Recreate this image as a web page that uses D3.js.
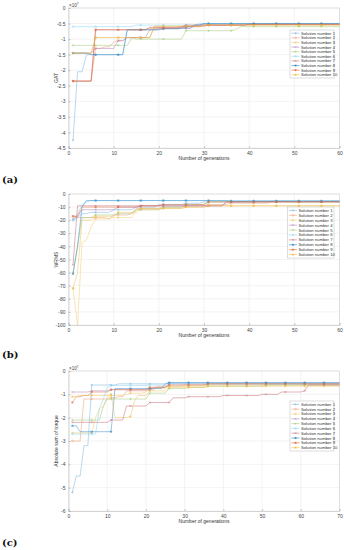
<!DOCTYPE html>
<html><head><meta charset="utf-8">
<script src="https://cdn.jsdelivr.net/npm/d3@7"></script>
<style>body{margin:0;background:#fff}svg{display:block}</style>
</head><body>
<svg id="c" width="344" height="550"></svg>
<script>
// ---- data (step change points: [generation, value]) ----
const seriesNames = ["Solution number 1","Solution number 2","Solution number 3","Solution number 4","Solution number 5","Solution number 6","Solution number 7","Solution number 8","Solution number 9","Solution number 10"];
const seriesColors = ["#7fb8e0","#eca27f","#f3cf75","#b488bd","#a6cc7c","#8fd6f4","#c9727f","#2a86c8","#de6a38","#efbc45"];
const seriesMarkers = ["+","o","*","x","+","o","x","*","*","*"];

const gatTicksX = [0,10,20,30,40,50,60];
const gatTicksY = [0,-0.5,-1,-1.5,-2,-2.5,-3,-3.5,-4,-4.5];
const gatSteps = [
  [[1,-4.25],[2,-2.05],[3,-2.05],[4,-1.5],[12,-1.5],[13,-0.7],[20,-0.7],[21,-0.66],[28,-0.55],[30,-0.5]],
  [[1,-2.35],[5,-2.35],[6,-1.3],[8,-1.25],[10,-1.1],[11,-1.05],[13,-0.95],[17,-0.95],[19,-0.62],[26,-0.6],[31,-0.55],[40,-0.52]],
  [[1,-1.45],[5,-1.45],[6,-0.95],[17,-0.95],[19,-0.6],[26,-0.58],[31,-0.55]],
  [[1,-1.45],[5,-1.45],[6,-1.3],[11,-1.05],[13,-0.95],[17,-0.95],[18,-0.7],[21,-0.65],[26,-0.65],[28,-0.55],[36,-0.52]],
  [[1,-1.2],[13,-1.2],[14,-0.97],[15,-1.0],[24,-1.0],[26,-0.73],[37,-0.7],[38,-0.6]],
  [[1,-0.6],[14,-0.6],[15,-0.55],[28,-0.55],[29,-0.5]],
  [[1,-2.35],[5,-2.35],[6,-0.7],[17,-0.7],[18,-0.62],[25,-0.6],[26,-0.55],[40,-0.52]],
  [[1,-1.45],[4,-1.45],[5,-1.5],[12,-1.5],[13,-0.7],[20,-0.67],[25,-0.65],[26,-0.6],[28,-0.55],[30,-0.5]],
  [[1,-2.35],[5,-2.35],[6,-0.7],[17,-0.7],[18,-0.65],[25,-0.6],[30,-0.55],[40,-0.53]],
  [[1,-1.45],[5,-1.45],[6,-0.95],[17,-0.95],[19,-0.58],[30,-0.55]]
];

const wrmsTicksX = [0,10,20,30,40,50,60];
const wrmsTicksY = [0,-10,-20,-30,-40,-50,-60,-70,-80,-90,-100];
const wrmsSteps = [
  [[1,-20],[2,-18],[3,-15],[5,-14],[10,-12],[15,-10],[20,-8],[26,-7],[30,-6],[40,-5.5]],
  [[1,-17],[2,-18],[9,-19],[10,-16],[14,-15],[15,-11],[21,-10],[26,-9],[31,-8],[36,-7],[45,-6]],
  [[1,-72],[2,-100],[3,-37],[4,-35],[5,-25],[6,-19],[10,-18],[15,-12],[21,-11],[26,-10],[31,-9]],
  [[1,-19],[2,-17],[3,-12],[11,-10],[16,-9],[34,-9],[35,-6],[45,-5.5]],
  [[1,-60],[2,-40],[3,-18],[6,-16],[11,-15],[15,-12],[21,-10],[26,-8],[31,-6]],
  [[1,-20],[2,-15],[3,-8],[4,-6],[5,-5]],
  [[1,-54],[2,-9],[34,-9],[35,-6]],
  [[1,-61],[2,-40],[3,-10],[4,-5],[30,-5],[36,-5.5]],
  [[1,-17],[2,-17],[3,-10],[15,-10],[16,-9],[21,-8],[30,-8],[31,-6]],
  [[1,-72],[2,-60],[3,-20],[6,-17],[11,-14],[16,-11],[26,-10],[31,-9]]
];

const torqueTicksX = [0,10,20,30,40,50,60,70];
const torqueTicksY = [0,-1,-2,-3,-4,-5,-6];
const torqueSteps = [
  [[1,-5.2],[2,-4.5],[3,-4.5],[4,-3.2],[5,-3.2],[6,-0.6],[12,-0.6],[13,-0.55],[25,-0.55],[26,-0.5]],
  [[1,-3.0],[3,-3.0],[4,-1.2],[11,-1.15],[13,-1.1],[15,-0.85],[21,-0.8],[23,-0.65],[30,-0.6],[36,-0.55]],
  [[1,-2.65],[6,-2.65],[7,-2.0],[8,-1.6],[9,-1.55],[10,-1.1],[11,-1.05],[15,-1.0],[16,-0.95],[20,-0.9],[21,-0.75],[26,-0.65],[36,-0.6]],
  [[1,-0.9],[5,-0.9],[6,-0.85],[11,-0.8],[20,-0.8],[22,-0.7],[26,-0.55]],
  [[1,-2.1],[8,-2.1],[9,-1.5],[10,-1.2],[20,-1.2],[21,-0.95],[26,-0.75],[31,-0.7],[36,-0.65],[50,-0.65],[51,-0.6]],
  [[1,-2.7],[7,-2.7],[8,-1.6],[9,-1.2],[10,-0.7],[11,-0.62],[21,-0.6],[26,-0.55]],
  [[1,-2.2],[10,-2.2],[11,-2.1],[14,-2.1],[15,-1.5],[20,-1.5],[21,-1.35],[26,-1.35],[27,-1.15],[31,-1.1],[40,-1.05],[50,-1.0],[55,-0.9],[61,-0.85],[62,-0.6]],
  [[1,-2.35],[2,-2.35],[3,-2.6],[11,-2.6],[12,-0.75],[24,-0.75],[25,-0.55],[26,-0.5]],
  [[1,-1.35],[2,-1.1],[4,-1.05],[6,-0.9],[11,-0.8],[20,-0.8],[21,-0.7],[26,-0.6],[36,-0.55]],
  [[1,-1.1],[3,-1.05],[11,-1.0],[12,-2.0],[16,-1.95],[17,-1.3],[18,-1.05],[21,-0.85],[26,-0.7],[36,-0.65]]
];

// ---- drawing ----
const svg = d3.select("#c");
svg.append("rect").attr("width",344).attr("height",550).attr("fill","#fff");

function expand(steps, n){
  const out=[]; let k=0;
  for(let g=1; g<=n; g++){
    while(k+1<steps.length && steps[k+1][0]<=g) k++;
    out.push([g, steps[k][1]]);
  }
  return out;
}

function marker(g, type, color, s){
  if(type==="o"){ g.append("circle").attr("r",s*0.8).attr("fill","none").attr("stroke",color).attr("stroke-width",0.5); return; }
  const lines=[];
  if(type==="+"||type==="*") lines.push([-s,0,s,0],[0,-s,0,s]);
  if(type==="x"||type==="*") lines.push([-s*0.75,-s*0.75,s*0.75,s*0.75],[-s*0.75,s*0.75,s*0.75,-s*0.75]);
  lines.forEach(l=>g.append("line").attr("x1",l[0]).attr("y1",l[1]).attr("x2",l[2]).attr("y2",l[3]).attr("stroke",color).attr("stroke-width",0.5));
}

function panel(cfg){
  const x = d3.scaleLinear().domain([0,cfg.xmax]).range([68.5,339.5]);
  const y = d3.scaleLinear().domain([cfg.ymin,0]).range([cfg.bottom,cfg.top]);
  const g = svg.append("g");
  g.selectAll(".gx").data(cfg.ticksX).enter().append("line")
    .attr("x1",d=>x(d)).attr("x2",d=>x(d)).attr("y1",cfg.top).attr("y2",cfg.bottom)
    .attr("stroke","#e6e6e6").attr("stroke-width",0.5);
  g.selectAll(".gy").data(cfg.ticksY).enter().append("line")
    .attr("x1",68.5).attr("x2",339.5).attr("y1",d=>y(d)).attr("y2",d=>y(d))
    .attr("stroke","#e6e6e6").attr("stroke-width",0.5);
  const ax = g.append("g").attr("transform",`translate(0,${cfg.bottom})`)
    .call(d3.axisBottom(x).tickValues(cfg.ticksX).tickSize(-2).tickPadding(3).tickFormat(d3.format("d")));
  const ay = g.append("g").attr("transform",`translate(68.5,0)`)
    .call(d3.axisLeft(y).tickValues(cfg.ticksY).tickSize(-2).tickPadding(3).tickFormat(d=>String(d)));
  [ax,ay].forEach(a=>{
    a.select(".domain").attr("stroke","#bbb").attr("stroke-width",0.6);
    a.selectAll(".tick line").attr("stroke","#999").attr("stroke-width",0.5);
    a.selectAll("text").attr("font-family","Arial, Liberation Sans, sans-serif").attr("font-size",5).attr("fill","#444");
  });
  g.append("line").attr("x1",68.5).attr("x2",339.5).attr("y1",cfg.top).attr("y2",cfg.top).attr("stroke","#ccc").attr("stroke-width",0.5);
  g.append("line").attr("x1",339.5).attr("x2",339.5).attr("y1",cfg.top).attr("y2",cfg.bottom).attr("stroke","#ccc").attr("stroke-width",0.5);
  const line = d3.line().x(d=>x(d[0])).y(d=>y(d[1]));
  cfg.steps.forEach((st,i)=>{
    const pts = expand(st, cfg.xmax);
    const sg = g.append("g").attr("opacity", i>=7 ? 0.85 : 1);
    sg.append("path").attr("d",line(pts)).attr("fill","none").attr("stroke",seriesColors[i]).attr("stroke-width",0.55);
    pts.filter(p=>(p[0]-1)%5===0).forEach(p=>{
      const m = sg.append("g").attr("transform",`translate(${x(p[0])},${y(p[1])})`);
      marker(m, seriesMarkers[i], seriesColors[i], 1.2);
    });
  });
  g.append("text").attr("x",(68.5+339.5)/2).attr("y",cfg.bottom+11.5).attr("text-anchor","middle")
    .attr("font-family","Arial, Liberation Sans, sans-serif").attr("font-size",5).attr("fill","#333").text("Number of generations");
  g.append("text").attr("transform",`translate(58,${(cfg.top+cfg.bottom)/2}) rotate(-90)`).attr("text-anchor","middle")
    .attr("font-family","Arial, Liberation Sans, sans-serif").attr("font-size",5).attr("fill","#333").text(cfg.ylabel);
  if(cfg.exp){
    const t = g.append("text").attr("x",69).attr("y",cfg.top-1.5)
      .attr("font-family","Arial, Liberation Sans, sans-serif").attr("font-size",4.5).attr("fill","#444");
    t.append("tspan").text("×10");
    t.append("tspan").attr("dy",-1.8).attr("font-size",3.2).text("7");
  }
  const L = cfg.legend;
  const lg = g.append("g");
  lg.append("rect").attr("x",L.x).attr("y",L.y).attr("width",L.w).attr("height",L.h)
    .attr("fill","#fff").attr("stroke","#bbb").attr("stroke-width",0.5);
  const rh = L.h/10.4;
  seriesNames.forEach((nm,i)=>{
    const cy = L.y + rh*(i+0.7);
    lg.append("line").attr("x1",L.x+1.5).attr("x2",L.x+9.5).attr("y1",cy).attr("y2",cy).attr("stroke",seriesColors[i]).attr("stroke-width",0.6);
    const m = lg.append("g").attr("transform",`translate(${L.x+5.5},${cy})`);
    marker(m, seriesMarkers[i], seriesColors[i], 1.1);
    lg.append("text").attr("x",L.x+11).attr("y",cy+1.5)
      .attr("font-family","Arial, Liberation Sans, sans-serif").attr("font-size",4.2).attr("fill","#333").text(nm);
  });
}

panel({xmax:60, ymin:-4.5, top:8, bottom:148, ticksX:gatTicksX, ticksY:gatTicksY, steps:gatSteps, ylabel:"GAT", exp:true,
  legend:{x:290,y:30,w:44,h:48}});
panel({xmax:60, ymin:-100, top:194, bottom:325, ticksX:wrmsTicksX, ticksY:wrmsTicksY, steps:wrmsSteps, ylabel:"WRMS", exp:false,
  legend:{x:287.5,y:207,w:46.5,h:51}});
panel({xmax:70, ymin:-6, top:371, bottom:511, ticksX:torqueTicksX, ticksY:torqueTicksY, steps:torqueSteps, ylabel:"Absolute sum of torque", exp:true,
  legend:{x:290,y:401,w:44,h:50}});

[["(a)",183],["(b)",358],["(c)",546]].forEach(([t,yy])=>{
  svg.append("text").attr("x",2).attr("y",yy).attr("font-family","DejaVu Serif, Liberation Serif, serif")
    .attr("font-weight","bold").attr("font-size",10).attr("fill","#111").text(t);
});
</script>
</body></html>
